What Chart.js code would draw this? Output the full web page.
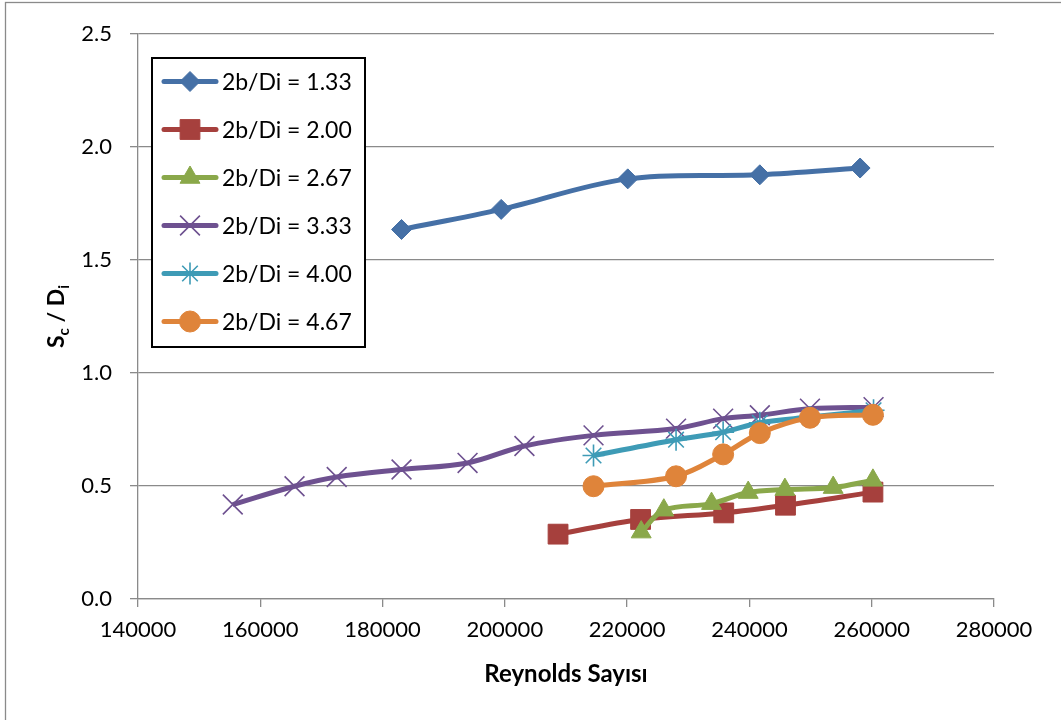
<!DOCTYPE html>
<html>
<head>
<meta charset="utf-8">
<script src="https://cdn.jsdelivr.net/npm/chart.js@4/dist/chart.umd.min.js"></script>
<style>
html,body{margin:0;padding:0;background:#fff;}
#wrap{position:relative;width:1061px;height:720px;}
canvas{display:block;}
</style>
</head>
<body>
<div id="wrap"><canvas id="c" width="1061" height="720"></canvas></div>
<script>
// ---- data ----
const seriesNames = ["2b/Di = 1.33","2b/Di = 2.00","2b/Di = 2.67","2b/Di = 3.33","2b/Di = 4.00","2b/Di = 4.67"];
const re133 = [183100, 199400, 220100, 241700, 258100];
const sd133 = [1.635, 1.724, 1.859, 1.877, 1.907];
const re200 = [208700, 222200, 235800, 245900, 260200];
const sd200 = [0.287, 0.352, 0.381, 0.415, 0.473];
const re267 = [222300, 226000, 233800, 239800, 245800, 253700, 260200];
const sd267 = [0.296, 0.393, 0.422, 0.471, 0.484, 0.493, 0.525];
const re333 = [155500, 165600, 172500, 183100, 193900, 203200, 214500, 228000, 235700, 241700, 249900, 260300];
const sd333 = [0.418, 0.499, 0.540, 0.573, 0.602, 0.677, 0.724, 0.754, 0.798, 0.813, 0.842, 0.849];
const re400 = [214500, 228000, 235700, 241700, 249900, 260300];
const sd400 = [0.635, 0.705, 0.738, 0.780, 0.805, 0.835];
const re467 = [214500, 228000, 235700, 241700, 249900, 260200];
const sd467 = [0.499, 0.543, 0.640, 0.734, 0.802, 0.815];
const xTicks = [140000,160000,180000,200000,220000,240000,260000,280000];
const yTicks = [0.0,0.5,1.0,1.5,2.0,2.5];
const xTitle = "Reynolds Sayısı";

const xs = [re133, re200, re267, re333, re400, re467];
const ys = [sd133, sd200, sd267, sd333, sd400, sd467];
const colors = ["#4570A6","#A6403D","#8AA84A","#6E5190","#3E9BB6","#DF843A"];
const styles = ["rectRot","rect","triangle","crossRot","star","circle"];
const radii = [10, 14, 11.5, 14, 11, 10.5];
const filled = [true,true,true,false,false,true];

const FONT = "Lato, 'Open Sans', sans-serif";

const datasets = xs.map((xArr, i) => ({
  label: seriesNames[i],
  data: xArr.map((x, j) => ({x: x, y: ys[i][j]})),
  showLine: true,
  borderColor: colors[i],
  backgroundColor: colors[i],
  borderWidth: 5,
  tension: 0.35,
  pointStyle: styles[i],
  pointRadius: radii[i],
  pointHoverRadius: radii[i],
  pointBackgroundColor: colors[i],
  pointBorderColor: colors[i],
  pointBorderWidth: filled[i] ? 1 : 1.6,
  order: 5 - i
}));

const decor = {
  id: 'decor',
  beforeDraw(chart) {
    const ctx = chart.ctx;
    ctx.save();
    ctx.fillStyle = '#fff';
    ctx.fillRect(0,0,chart.width,chart.height);
    ctx.strokeStyle = '#8a8a8a';
    ctx.lineWidth = 1.3;
    ctx.strokeRect(5.5, 2.5, 3000, 3000);
    ctx.restore();
  },
  afterDraw(chart) {
    const ctx = chart.ctx;
    const ca = chart.chartArea;
    ctx.save();
    // x title
    ctx.fillStyle = '#000';
    ctx.font = "bold 24px " + FONT;
    ctx.textAlign = 'center';
    ctx.textBaseline = 'alphabetic';
    ctx.fillText(xTitle, (ca.left + ca.right)/2, 682);
    // y title with subscripts
    ctx.translate(64, (ca.top + ca.bottom)/2);
    ctx.rotate(-Math.PI/2);
    const big = "bold 23px " + FONT, small = "bold 15px " + FONT;
    const parts = [["S",big,0],["c",small,5],[" / D",big,0],["i",small,5]];
    let total = 0;
    parts.forEach(p => { ctx.font = p[1]; total += ctx.measureText(p[0]).width; });
    let x = -total/2;
    ctx.textAlign = 'left';
    parts.forEach(p => { ctx.font = p[1]; ctx.fillText(p[0], x, p[2]); x += ctx.measureText(p[0]).width; });
    ctx.restore();

    // legend
    ctx.save();
    const L = 152, T = 58, R = 365, B = 347;
    ctx.fillStyle = '#fff';
    ctx.fillRect(L, T, R-L, B-T);
    ctx.strokeStyle = '#000';
    ctx.lineWidth = 2;
    ctx.strokeRect(L, T, R-L, B-T);
    chart.data.datasets.forEach((ds, i) => {
      const cy = 81.5 + i*48;
      ctx.strokeStyle = ds.borderColor;
      ctx.lineWidth = 5;
      ctx.lineCap = 'round';
      ctx.beginPath(); ctx.moveTo(164, cy); ctx.lineTo(216, cy); ctx.stroke();
      ctx.lineCap = 'butt';
      ctx.fillStyle = ds.pointBackgroundColor;
      ctx.strokeStyle = ds.pointBorderColor;
      ctx.lineWidth = ds.pointBorderWidth;
      Chart.helpers.drawPoint(ctx, {pointStyle: ds.pointStyle, rotation: 0, radius: ds.pointRadius, borderWidth: ds.pointBorderWidth}, 190, cy);
      ctx.fillStyle = '#000';
      ctx.font = "23px " + FONT;
      ctx.textAlign = 'left';
      ctx.textBaseline = 'middle';
      ctx.fillText(ds.label, 222, cy + 1);
    });
    ctx.restore();
  }
};

new Chart(document.getElementById('c'), {
  type: 'scatter',
  data: { datasets },
  options: {
    responsive: false,
    animation: false,
    devicePixelRatio: 1,
    layout: { padding: { top: 34, right: 67, left: 0, bottom: 0 } },
    plugins: { legend: { display: false }, tooltip: { enabled: false } },
    scales: {
      x: {
        type: 'linear',
        min: 140000, max: 280000,
        afterBuildTicks: s => { s.ticks = xTicks.map(v => ({value: v})); },
        afterFit: s => { s.height = 121; },
        grid: { drawOnChartArea: false, drawTicks: true, tickLength: 8, color: '#8a8a8a', lineWidth: 1.3 },
        border: { display: true, color: '#8a8a8a', width: 1.3 },
        ticks: { color: '#000', font: { family: FONT, size: 22 }, padding: 10, maxRotation: 0, autoSkip: false, callback: v => String(v) }
      },
      y: {
        type: 'linear',
        min: 0, max: 2.5,
        afterBuildTicks: s => { s.ticks = yTicks.map(v => ({value: v})); },
        afterFit: s => { s.width = 138; },
        grid: { drawTicks: true, tickLength: 8, color: '#8a8a8a', lineWidth: 1.3 },
        border: { display: true, color: '#8a8a8a', width: 1.3 },
        ticks: { color: '#000', font: { family: FONT, size: 22 }, padding: 18, autoSkip: false, callback: v => Number(v).toFixed(1) }
      }
    }
  },
  plugins: [decor]
});
</script>
</body>
</html>
